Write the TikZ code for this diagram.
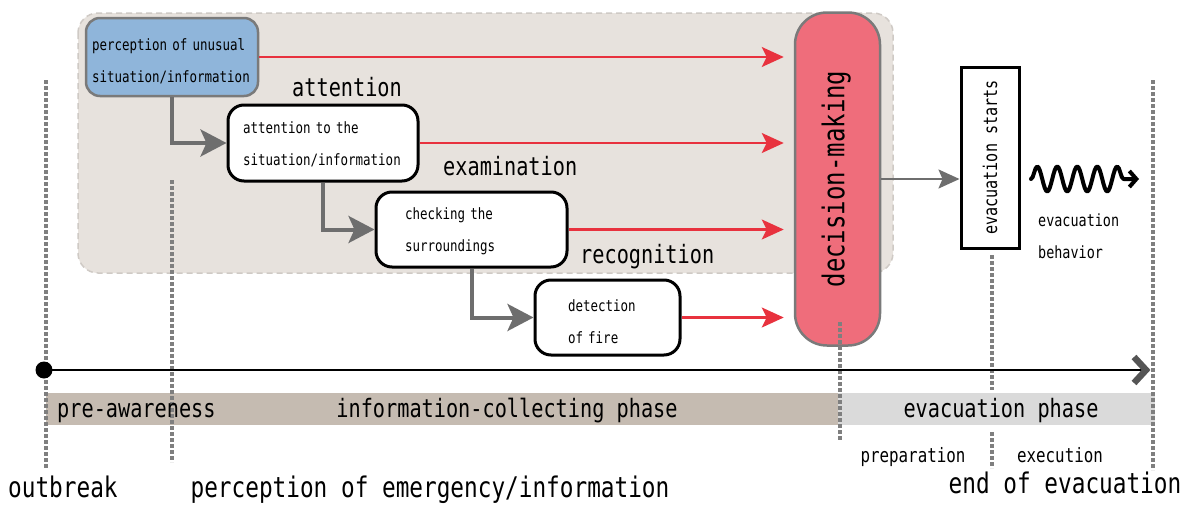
\documentclass[tikz,border=0pt]{standalone}
\usepackage{fontspec}
\newfontfamily\gm[FakeStretch=0.8]{DejaVu Sans Mono}
\usetikzlibrary{arrows.meta,decorations.pathmorphing}
\definecolor{bgc}{HTML}{E7E2DD}
\definecolor{bgline}{HTML}{CFCAC5}
\definecolor{bluec}{HTML}{8FB5DA}
\definecolor{pinkc}{HTML}{EF6D7B}
\definecolor{redc}{HTML}{E8323E}
\definecolor{boxgray}{HTML}{7A7A7A}
\definecolor{arrgray}{HTML}{6E6E6E}
\definecolor{barL}{HTML}{C5BBB1}
\definecolor{barR}{HTML}{DADADA}
\definecolor{dotc}{HTML}{7F7F7F}
\definecolor{chevc}{HTML}{555555}
\newcommand\myfs[2]{\fontsize{#1}{#2}\selectfont}
\newcommand\topstrut[1]{\rule{0pt}{#1}}
\begin{document}
\begin{tikzpicture}[x=1pt,y=-1pt,
  lbl/.style={font={\gm\myfs{25.3}{28}}, inner sep=0pt},
  biglbl/.style={font={\gm\myfs{28.4}{30}}, inner sep=0pt},
  smlbl/.style={font={\gm\myfs{19.8}{22}}, inner sep=0pt},
  boxtext/.style={font={\gm\myfs{15.6}{32}}, align=left, inner ysep=0pt},
  bluebox/.style={boxtext, draw=boxgray, line width=2.5pt, fill=bluec, rounded corners=14pt},
  wbox/.style={boxtext, draw=black, line width=3pt, fill=white, rounded corners=16pt},
  decbox/.style={draw=boxgray, line width=2.5pt, fill=pinkc, rounded corners=32pt,
    minimum width=85pt, minimum height=333pt, inner sep=0pt, font={\gm\myfs{30}{32}}},
  evbox/.style={draw=black, line width=3pt, fill=white, minimum width=58pt,
    minimum height=181pt, inner sep=0pt, font={\gm\myfs{18.9}{20}}},
  redarr/.style={draw=redc, line width=2.2pt, shorten >=10pt,
    -{Stealth[length=22pt,width=20pt,inset=5pt]}},
  grayarr/.style={draw=arrgray, line width=4pt,
    -{Stealth[length=26pt,width=27pt,inset=6pt]}},
  thinarr/.style={draw=arrgray, line width=2pt,
    -{Stealth[length=21pt,width=19pt,inset=4pt]}},
  dotline/.style={draw=dotc, line width=3.5pt, dash pattern=on 3.5pt off 2.5pt}
]
\useasboundingbox (0,0) rectangle (1195,506);
\fill[white] (0,0) rectangle (1195,506);

% grey region
\draw[bgline, fill=bgc, line width=1.5pt, dash pattern=on 6pt off 4pt, rounded corners=20pt]
  (78,13) rectangle (893,273);

% phase bar
\fill[barL] (46,393) rectangle (838,425);
\fill[barR] (838,393) rectangle (1155,425);

% boxes
\node[bluebox, text width=160pt, inner xsep=6pt, minimum height=78pt] (perc) at (172,57)
  {\topstrut{20pt}perception of unusual\\situation/information};
\node[wbox, text width=160pt, inner xsep=15pt, minimum height=76pt] (att) at (323,143)
  {\topstrut{14pt}attention to the\\situation/information};
\node[wbox, text width=133pt, inner xsep=29pt, minimum height=75pt] (chk) at (471.5,229.5)
  {\topstrut{16pt}checking the\\surroundings};
\node[wbox, text width=79pt, inner xsep=33pt, minimum height=75pt] (det) at (607.5,317.5)
  {\topstrut{20pt}detection\\of fire};
\node[decbox] (dec) at (837.5,179) {\rotatebox{90}{\raisebox{9pt}{decision-making}}};
\node[evbox] (evac) at (990,157.5) {\rotatebox{90}{evacuation starts}};

% labels
\node[lbl, anchor=base west] (lab1) at (292,96) {attention};
\node[lbl, anchor=base west] (lab2) at (443,175) {examination};
\node[lbl, anchor=base west] (lab3) at (580,263) {recognition};

% red arrows
\draw[redarr] (perc.east) -- (perc.east -| dec.west);
\draw[redarr] (att.east) -- (att.east -| dec.west);
\draw[redarr] (chk.east) -- (chk.east -| dec.west);
\draw[redarr] (det.east) -- (det.east -| dec.west);

% grey elbow arrows
\draw[grayarr] (perc.south) |- (att.west);
\draw[grayarr] (att.south) |- (chk.west);
\draw[grayarr] (chk.south) |- (det.west);

% decision -> evacuation starts
\draw[thinarr] (dec.east) -- (dec.east -| evac.west);

% wave
\coordinate (w0) at (1031,179);
\coordinate (w1) at (1139,179);
\draw[line width=4pt, line cap=round, line join=round, decorate,
  decoration={snake, segment length=20pt, amplitude=12.5pt, post length=9pt},
  -{Straight Barb[length=7pt,width=16pt]}] (w0) -- (w1);
\node[boxtext, font={\gm\myfs{16.8}{32}}, anchor=base west, inner sep=0pt] (evbeh) at (1038,258)
  {evacuation\\behavior};

% dotted lines
\draw[dotline] (46,80) -- (46,468);
\draw[dotline] (172,180) -- (172,462);
\draw[dotline] (840,322) -- (840,440);
\draw[dotline] (992,255) -- (992,390);
\draw[dotline] (992,432) -- (992,468);
\draw[dotline] (1153,80) -- (1153,470);

% timeline
\node[circle, fill=black, minimum size=17pt, inner sep=0pt] (t0) at (44,370) {};
\coordinate (t1) at (1146,370);
\draw[line width=2.5pt] (t0.center) -- (t1);
\draw[chevc, line width=6.5pt] ([shift={(-12,-13)}]t1) -- (t1) -- ([shift={(-12,13)}]t1);

% phase texts
\node[lbl, anchor=base west] (ph1) at (57,417) {pre-awareness};
\node[lbl, anchor=base] (ph2) at (507,417) {information-collecting phase};
\node[lbl, anchor=base] (ph3) at (1001,417) {evacuation phase};
\node[smlbl, anchor=base] (prep) at (913,462) {preparation};
\node[smlbl, anchor=base] (exe) at (1060,462) {execution};

% bottom labels
\node[biglbl, anchor=base west] (ob) at (8,497) {outbreak};
\node[biglbl, anchor=base] (pe) at (430,497) {perception of emergency/information};
\node[biglbl, anchor=base] (eoe) at (1065,493) {end of evacuation};
\end{tikzpicture}
\end{document}
